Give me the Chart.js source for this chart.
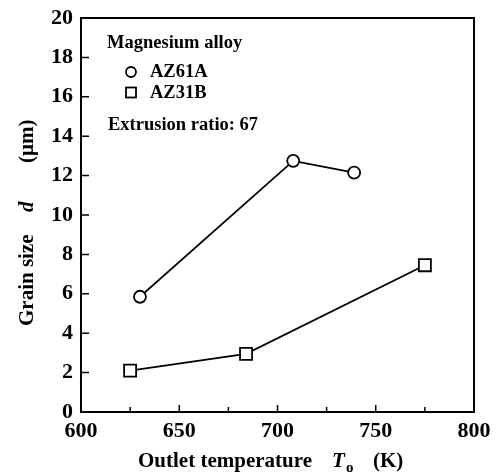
<!DOCTYPE html>
<html><head><meta charset="utf-8">
<script src="https://cdn.jsdelivr.net/npm/chart.js@4/dist/chart.umd.min.js"></script>
<style>html,body{margin:0;padding:0;background:#fff}#wrap{width:496px;height:474px}</style>
</head><body><div id="wrap"><canvas id="c" width="496" height="474"></canvas></div>
<script>
const temps61 = [630, 708, 739];
const size61 = [5.85, 12.75, 12.15];
const temps31 = [625, 684, 775];
const size31 = [2.1, 2.95, 7.45];
const xTicks = [600, 650, 700, 750, 800];
const xMinorTicks = [625, 675, 725, 775];
const yTicks = [0, 2, 4, 6, 8, 10, 12, 14, 16, 18, 20];
const legendTitle = 'Magnesium alloy';
const seriesNames = ['AZ61A', 'AZ31B'];
const noteText = 'Extrusion ratio: 67';

const SERIF = '"Liberation Serif", "Times New Roman", serif';

const decor = {
  id: 'decor',
  afterDatasetsDraw(chart) {
    const ctx = chart.ctx, a = chart.chartArea;
    const xs = chart.scales.x, ys = chart.scales.y;
    ctx.save();
    ctx.strokeStyle = '#000';
    ctx.lineWidth = 2;
    ctx.strokeRect(a.left, a.top, a.right - a.left, a.bottom - a.top);
    ctx.lineWidth = 1.5;
    ctx.beginPath();
    xTicks.forEach(v => { const p = xs.getPixelForValue(v); ctx.moveTo(p, a.bottom); ctx.lineTo(p, a.bottom - 7); });
    xMinorTicks.forEach(v => { const p = xs.getPixelForValue(v); ctx.moveTo(p, a.bottom); ctx.lineTo(p, a.bottom - 5); });
    yTicks.forEach(v => { const p = ys.getPixelForValue(v); ctx.moveTo(a.left, p); ctx.lineTo(a.left + 8, p); });
    ctx.stroke();

    // legend
    ctx.fillStyle = '#000';
    ctx.textBaseline = 'middle';
    ctx.textAlign = 'left';
    ctx.font = 'bold 18.5px ' + SERIF;
    ctx.fillText(legendTitle, a.left + 26, a.top + 25);
    ctx.fillText(seriesNames[0], a.left + 69, a.top + 54);
    ctx.fillText(seriesNames[1], a.left + 69, a.top + 75);
    ctx.fillText(noteText, a.left + 27, a.top + 107);
    ctx.lineWidth = 1.8;
    ctx.beginPath(); ctx.arc(a.left + 50, a.top + 54, 5, 0, Math.PI * 2); ctx.stroke();
    ctx.strokeRect(a.left + 45, a.top + 69.5, 10, 10);

    // x title
    ctx.font = 'bold 21px ' + SERIF;
    ctx.textBaseline = 'alphabetic';
    const by = 467;
    ctx.fillText('Outlet temperature', 138, by);
    ctx.font = 'italic bold 21px ' + SERIF;
    ctx.fillText('T', 332, by);
    ctx.font = 'bold 15px ' + SERIF;
    ctx.fillText('o', 346, by + 5);
    ctx.font = 'bold 21px ' + SERIF;
    ctx.fillText('(K)', 373, by);

    // y title
    ctx.save();
    ctx.translate(33, 0);
    ctx.rotate(-Math.PI / 2);
    ctx.font = 'bold 21px ' + SERIF;
    ctx.fillText('Grain size', -326, 0);
    ctx.font = 'italic bold 21px ' + SERIF;
    ctx.fillText('d', -212, 0);
    ctx.font = 'bold 21px ' + SERIF;
    ctx.fillText('(\u03bcm)', -163, 0);
    ctx.restore();
    ctx.restore();
  }
};

new Chart(document.getElementById('c'), {
  type: 'scatter',
  data: {
    datasets: [
      { label: seriesNames[0], data: temps61.map((t, i) => ({ x: t, y: size61[i] })), showLine: true,
        borderColor: '#000', borderWidth: 1.7, pointStyle: 'circle', pointRadius: 6,
        pointBackgroundColor: '#fff', pointBorderColor: '#000', pointBorderWidth: 1.8 },
      { label: seriesNames[1], data: temps31.map((t, i) => ({ x: t, y: size31[i] })), showLine: true,
        borderColor: '#000', borderWidth: 1.7, pointStyle: 'rect', pointRadius: 8.5,
        pointBackgroundColor: '#fff', pointBorderColor: '#000', pointBorderWidth: 1.8 }
    ]
  },
  options: {
    responsive: false, animation: false, devicePixelRatio: 1,
    layout: { padding: { left: 0, top: 18, right: 22, bottom: 0 } },
    plugins: { legend: { display: false }, tooltip: { enabled: false } },
    scales: {
      x: { type: 'linear', min: 600, max: 800,
        afterBuildTicks: s => { s.ticks = xTicks.map(v => ({ value: v })); },
        afterFit: s => { s.height = 62; s.paddingLeft = 0; s.paddingRight = 0; },
        grid: { display: false, drawTicks: false }, border: { display: false },
        ticks: { color: '#000', font: { family: SERIF, size: 22, weight: 'bold' }, padding: 6, maxRotation: 0 } },
      y: { min: 0, max: 20,
        afterBuildTicks: s => { s.ticks = yTicks.map(v => ({ value: v })); },
        afterFit: s => { s.width = 81; s.paddingTop = 0; s.paddingBottom = 0; },
        grid: { display: false, drawTicks: false }, border: { display: false },
        ticks: { color: '#000', font: { family: SERIF, size: 22, weight: 'bold' }, padding: 8 } }
    }
  },
  plugins: [decor]
});
</script></body></html>
